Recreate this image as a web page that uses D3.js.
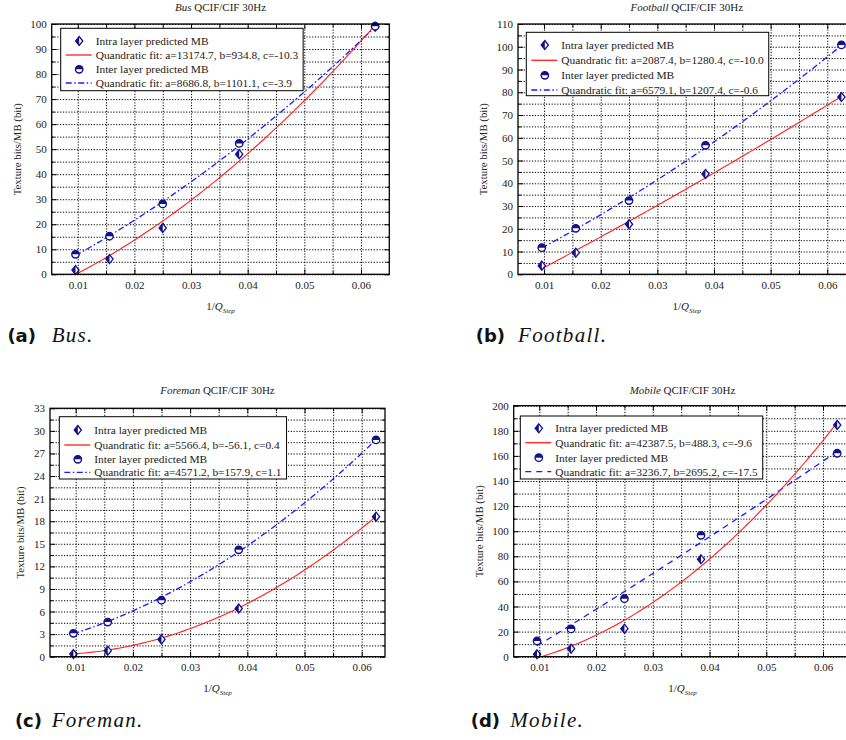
<!DOCTYPE html>
<html><head><meta charset="utf-8">
<script src="https://cdn.jsdelivr.net/npm/d3@7"></script>
<style>body{margin:0;background:#fff}svg{display:block}</style>
</head><body>
<svg id="chart" width="846" height="740"></svg>
<script>
// ---------- DATA ----------
const xValues = [0.0096, 0.0156, 0.025, 0.0385, 0.0625];   // 1/Qstep
const xTickValues = [0.01, 0.02, 0.03, 0.04, 0.05, 0.06];
const xTickLabels = ["0.01", "0.02", "0.03", "0.04", "0.05", "0.06"];
const sequenceNames = ["Bus", "Football", "Foreman", "Mobile"];
const captionLetters = ["(a)", "(b)", "(c)", "(d)"];
const legendLabels = ["Intra layer predicted MB", "Inter layer predicted MB"];

const busIntra = [1.7, 6.1, 18.5, 48.0, 98.9];
const busInter = [8.0, 15.2, 28.1, 52.3, 99.1];
const footballIntra = [3.8, 9.5, 22.0, 44.1, 77.9];
const footballInter = [11.7, 20.2, 32.4, 56.7, 100.8];
const foremanIntra = [0.35, 0.8, 2.3, 6.4, 18.6];
const foremanInter = [3.1, 4.6, 7.5, 14.2, 28.8];
const mobileIntra = [1.9, 6.4, 22.3, 77.6, 184.6];
const mobileInter = [12.5, 22.1, 46.2, 96.7, 162.1];

// quadratic fit coefficients [a, b, c] (from the legends)
const busIntraFit = [13174.7, 934.8, -10.3];
const busInterFit = [8686.8, 1101.1, -3.9];
const footballIntraFit = [2087.4, 1280.4, -10.0];
const footballInterFit = [6579.1, 1207.4, -0.6];
const foremanIntraFit = [5566.4, -56.1, 0.4];
const foremanInterFit = [4571.2, 157.9, 1.1];
const mobileIntraFit = [42387.5, 488.3, -9.6];
const mobileInterFit = [3236.7, 2695.2, -17.5];

const yTicksBus = [0, 10, 20, 30, 40, 50, 60, 70, 80, 90, 100];
const yTicksFootball = [0, 10, 20, 30, 40, 50, 60, 70, 80, 90, 100, 110];
const yTicksForeman = [0, 3, 6, 9, 12, 15, 18, 21, 24, 27, 30, 33];
const yTicksMobile = [0, 20, 40, 60, 80, 100, 120, 140, 160, 180, 200];

// ---------- LAYOUT ----------
const panels = [
  {name: sequenceNames[0], cap: captionLetters[0], intra: busIntra, inter: busInter,
   fi: busIntraFit, fe: busInterFit, yTicks: yTicksBus,
   left: 51.7, right: 389.3, top: 24, bottom: 274.3, xd: [0.0054, 0.065],
   interDash: "6,2.5,1.5,2.5",
   legend: {x: 60.7, y: 28.3, h: 62.4, rows: [12.7, 26.7, 41, 54.7]},
   ylabX: 20.8, titleY: 11, xlabY: 310, capY: 342, capEnd: 36, capStart: 51.7},
  {name: sequenceNames[1], cap: captionLetters[1], intra: footballIntra, inter: footballInter,
   fi: footballIntraFit, fe: footballInterFit, yTicks: yTicksFootball,
   left: 518, right: 855.6, top: 24, bottom: 274.3, xd: [0.0054, 0.065],
   interDash: "6,2.5,1.5,2.5",
   legend: {x: 526.3, y: 32.3, h: 63.4, rows: [12.7, 28, 43, 57.7]},
   ylabX: 486.5, titleY: 11, xlabY: 310, capY: 342, capEnd: 505, capStart: 518},
  {name: sequenceNames[2], cap: captionLetters[2], intra: foremanIntra, inter: foremanInter,
   fi: foremanIntraFit, fe: foremanInterFit, yTicks: yTicksForeman,
   left: 50, right: 385, top: 408.3, bottom: 656.7, xd: [0.00551, 0.06407],
   interDash: "6,2.5,1.5,2.5",
   legend: {x: 59.3, y: 416.7, h: 62.3, rows: [13.3, 28.3, 42.6, 55.6]},
   ylabX: 24.2, titleY: 394, xlabY: 692, capY: 727, capEnd: 42, capStart: 51.7},
  {name: sequenceNames[3], cap: captionLetters[3], intra: mobileIntra, inter: mobileInter,
   fi: mobileIntraFit, fe: mobileInterFit, yTicks: yTicksMobile,
   left: 513.7, right: 851.4, top: 405.7, bottom: 656.7, xd: [0.00549, 0.065],
   interDash: "6,5",
   legend: {x: 520.3, y: 416, h: 63, rows: [12.3, 26.7, 41.7, 55.7]},
   ylabX: 483.2, titleY: 394, xlabY: 692, capY: 727, capEnd: 500, capStart: 510.3}
];

const svg = d3.select("#chart");
const SERIF = "'Liberation Serif','Times New Roman',serif";
const NAVY = "#12128c";
const RED = "#ff2020";
const BLUE = "#1a1aff";
const fmt = v => d3.format(".1f")(v).replace("\u2212", "-");

function diamond(g, cx, cy) {
  g.append("path").attr("d", `M${cx},${cy-4.5}L${cx+3.6},${cy}L${cx},${cy+4.5}L${cx-3.6},${cy}Z`)
    .attr("fill", "#fff").attr("stroke", NAVY).attr("stroke-width", 1.3);
  g.append("path").attr("d", `M${cx},${cy-4.5}L${cx},${cy+4.5}L${cx-3.6},${cy}Z`)
    .attr("fill", NAVY);
}
function halfCircle(g, cx, cy) {
  const r = 3.7;
  g.append("circle").attr("cx", cx).attr("cy", cy).attr("r", r)
    .attr("fill", "#fff").attr("stroke", NAVY).attr("stroke-width", 1.4);
  g.append("path").attr("d", `M${cx-r},${cy}A${r},${r} 0 0 1 ${cx+r},${cy}Z`).attr("fill", NAVY);
}

panels.forEach((p, idx) => {
  const g = svg.append("g");
  const W = p.right - p.left, H = p.bottom - p.top;
  const yStep = p.yTicks[1] - p.yTicks[0];
  const yMax = p.yTicks[p.yTicks.length - 1];
  const x = d3.scaleLinear().domain(p.xd).range([p.left, p.right]);
  const y = d3.scaleLinear().domain([0, yMax]).range([p.bottom, p.top]);

  const xMinor = d3.range(0.01, 0.0651, 0.005).filter(v => v > p.xd[0] && v < p.xd[1]);
  const yMinor = d3.range(0, yMax + 1e-9, yStep / 2);

  // grid
  const gx = g.append("g").attr("transform", `translate(0,${p.bottom})`)
    .call(d3.axisBottom(x).tickValues(xMinor).tickSizeInner(-H).tickSizeOuter(0).tickFormat(""));
  const gy = g.append("g").attr("transform", `translate(${p.left},0)`)
    .call(d3.axisLeft(y).tickValues(yMinor).tickSizeInner(-W).tickSizeOuter(0).tickFormat(""));
  [gx, gy].forEach(a => {
    a.select(".domain").remove();
    a.selectAll("line").attr("stroke", "#000").attr("stroke-width", 1)
      .attr("stroke-dasharray", "1.2,1.6");
  });

  // clip
  const cid = "clip" + idx;
  svg.append("clipPath").attr("id", cid).append("rect")
    .attr("x", p.left).attr("y", p.top).attr("width", W).attr("height", H);
  const plot = g.append("g").attr("clip-path", `url(#${cid})`);

  const xs = d3.range(0, 81).map(i => xValues[0] + (xValues[4] - xValues[0]) * i / 80);
  const line = d3.line().x(d => x(d[0])).y(d => y(d[1]));
  const quad = c => xs.map(v => [v, c[0] * v * v + c[1] * v + c[2]]);

  plot.append("path").attr("d", line(quad(p.fe))).attr("fill", "none")
    .attr("stroke", BLUE).attr("stroke-width", 1.3).attr("stroke-dasharray", p.interDash);
  plot.append("path").attr("d", line(quad(p.fi))).attr("fill", "none")
    .attr("stroke", RED).attr("stroke-width", 1.1);

  const mk = g.append("g");
  p.intra.forEach((v, i) => diamond(mk, x(xValues[i]), y(v)));
  p.inter.forEach((v, i) => halfCircle(mk, x(xValues[i]), y(v)));

  // axes ticks and labels
  const xMinorOnly = xMinor.filter(v => !xTickValues.some(t => Math.abs(t - v) < 1e-9));
  const yMinorOnly = yMinor.filter(v => !p.yTicks.some(t => Math.abs(t - v) < 1e-9));
  const axes = g.append("g");
  const ab = axes.append("g").attr("transform", `translate(0,${p.bottom})`)
    .call(d3.axisBottom(x).tickValues(xTickValues).tickFormat((d, i) => xTickLabels[i])
      .tickSizeInner(-5).tickSizeOuter(0).tickPadding(7));
  const at = axes.append("g").attr("transform", `translate(0,${p.top})`)
    .call(d3.axisTop(x).tickValues(xTickValues).tickFormat("").tickSizeInner(-5).tickSizeOuter(0));
  const al = axes.append("g").attr("transform", `translate(${p.left},0)`)
    .call(d3.axisLeft(y).tickValues(p.yTicks).tickFormat(d => String(d))
      .tickSizeInner(-5).tickSizeOuter(0).tickPadding(5));
  const ar = axes.append("g").attr("transform", `translate(${p.right},0)`)
    .call(d3.axisRight(y).tickValues(p.yTicks).tickFormat("").tickSizeInner(-5).tickSizeOuter(0));
  const mb = axes.append("g").attr("transform", `translate(0,${p.bottom})`)
    .call(d3.axisBottom(x).tickValues(xMinorOnly).tickFormat("").tickSizeInner(-3).tickSizeOuter(0));
  const mt = axes.append("g").attr("transform", `translate(0,${p.top})`)
    .call(d3.axisTop(x).tickValues(xMinorOnly).tickFormat("").tickSizeInner(-3).tickSizeOuter(0));
  const ml = axes.append("g").attr("transform", `translate(${p.left},0)`)
    .call(d3.axisLeft(y).tickValues(yMinorOnly).tickFormat("").tickSizeInner(-3).tickSizeOuter(0));
  const mr = axes.append("g").attr("transform", `translate(${p.right},0)`)
    .call(d3.axisRight(y).tickValues(yMinorOnly).tickFormat("").tickSizeInner(-3).tickSizeOuter(0));
  [ab, at, al, ar, mb, mt, ml, mr].forEach(a => {
    a.select(".domain").remove();
    a.selectAll("line").attr("stroke", "#000").attr("stroke-width", 1);
    a.selectAll("text").attr("font-family", SERIF).attr("font-size", 11).attr("fill", "#222");
  });
  axes.append("rect").attr("x", p.left).attr("y", p.top).attr("width", W).attr("height", H)
    .attr("fill", "none").attr("stroke", "#000").attr("stroke-width", 1.3);

  // legend
  const L = p.legend;
  const lg = g.append("g");
  const box = lg.append("rect").attr("x", L.x).attr("y", L.y).attr("height", L.h)
    .attr("fill", "#fff").attr("stroke", "#000").attr("stroke-width", 1);
  const texts = [
    legendLabels[0],
    `Quandratic fit: a=${fmt(p.fi[0])}, b=${fmt(p.fi[1])}, c=${fmt(p.fi[2])}`,
    legendLabels[1],
    `Quandratic fit: a=${fmt(p.fe[0])}, b=${fmt(p.fe[1])}, c=${fmt(p.fe[2])}`
  ];
  let maxW = 0;
  texts.forEach((t, i) => {
    const tx = lg.append("text").attr("x", L.x + 35).attr("y", L.y + L.rows[i] + 4)
      .attr("font-family", SERIF).attr("font-size", 11.4).attr("fill", "#222").text(t);
    maxW = Math.max(maxW, tx.node().getComputedTextLength());
  });
  box.attr("width", 35 + maxW + 5);
  diamond(lg, L.x + 18.5, L.y + L.rows[0]);
  lg.append("line").attr("x1", L.x + 5).attr("x2", L.x + 31).attr("y1", L.y + L.rows[1]).attr("y2", L.y + L.rows[1])
    .attr("stroke", RED).attr("stroke-width", 1.3);
  halfCircle(lg, L.x + 18.5, L.y + L.rows[2]);
  lg.append("line").attr("x1", L.x + 5).attr("x2", L.x + 31).attr("y1", L.y + L.rows[3]).attr("y2", L.y + L.rows[3])
    .attr("stroke", BLUE).attr("stroke-width", 1.3).attr("stroke-dasharray", p.interDash);

  // title
  const cx = (p.left + p.right) / 2;
  const title = g.append("text").attr("x", cx).attr("y", p.titleY).attr("text-anchor", "middle")
    .attr("font-family", SERIF).attr("font-size", 11).attr("fill", "#222");
  title.append("tspan").attr("font-style", "italic").text(p.name);
  title.append("tspan").text(" QCIF/CIF 30Hz");

  // y label
  g.append("text").attr("transform", `translate(${p.ylabX},${(p.top + p.bottom) / 2}) rotate(-90)`)
    .attr("text-anchor", "middle").attr("font-family", SERIF).attr("font-size", 10.8).attr("fill", "#222")
    .text("Texture bits/MB (bit)");

  // x label
  const xl = g.append("text").attr("x", cx).attr("y", p.xlabY).attr("text-anchor", "middle")
    .attr("font-family", SERIF).attr("font-size", 11).attr("fill", "#222");
  xl.append("tspan").text("1/");
  xl.append("tspan").attr("font-style", "italic").text("Q");
  xl.append("tspan").attr("font-style", "italic").attr("font-size", 7).attr("dy", 3).text("Step");

  // caption
  g.append("text").attr("x", p.capEnd).attr("y", p.capY).attr("text-anchor", "end")
    .attr("font-family", "'DejaVu Sans',sans-serif").attr("font-weight", "bold").attr("font-size", 18)
    .attr("fill", "#111").text(p.cap);
  g.append("text").attr("x", p.capStart).attr("y", p.capY)
    .attr("font-family", "'Liberation Serif',serif").attr("font-style", "italic").attr("font-size", 21)
    .attr("letter-spacing", 1.3).attr("fill", "#111").text(p.name + ".");
});
</script>
</body></html>
